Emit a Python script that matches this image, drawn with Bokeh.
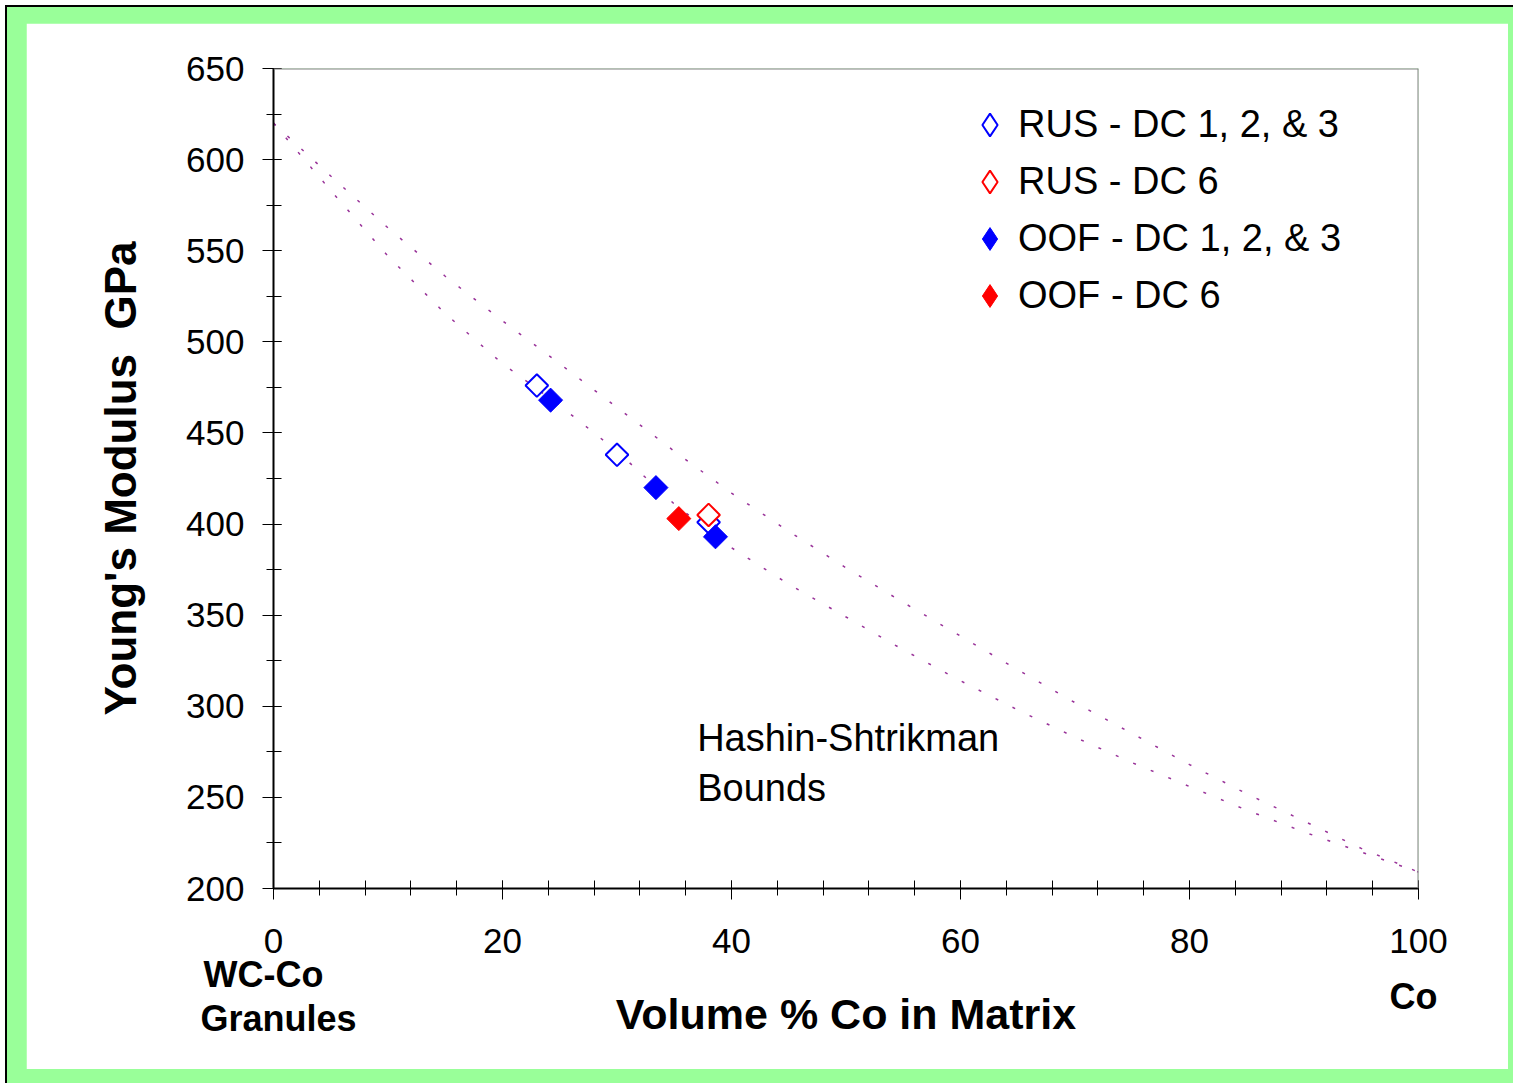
import numpy as np
from bokeh.plotting import figure
from bokeh.models import (Legend, LegendItem, Label, SingleIntervalTicker,
                          FixedTicker, LinearAxis, Range1d, Span)
from bokeh.layouts import column
from bokeh.embed import file_html
from bokeh.resources import INLINE

# ---------------- data ----------------
rus_123_x = [23.0, 30.0, 38.0]
rus_123_y = [476, 438, 401]
rus_6_x = [38.0]
rus_6_y = [405]
oof_123_x = [24.2, 33.4, 38.6]
oof_123_y = [468, 420, 393]
oof_6_x = [35.4]
oof_6_y = [403]

hs_x = [0, 5, 10, 15, 20, 25, 30, 35, 40, 45, 50, 55, 60, 65, 70, 75, 80, 85, 90, 95, 100]
hs_upper = [620, 591, 562.5, 536, 511.5, 488, 464, 440, 417, 396, 376, 357, 338.5,
            320, 302, 285, 268, 252, 237, 222, 209]
hs_lower = [620, 583, 547, 515.5, 488, 465, 440, 411, 387, 367, 349, 331, 314,
            298, 283, 269, 256, 243, 231, 220, 209]

legend_labels = ["RUS - DC 1, 2, & 3", "RUS - DC 6", "OOF - DC 1, 2, & 3", "OOF - DC 6"]
NB = "\u00a0"
x_end_labels = {0: NB + "WC-Co" + NB * 3 + "\n" + NB + "Granules", 100: "Co" + NB}
x_ticks_interval = 20
y_ticks_interval = 50

FONT = "Liberation Sans"
PURPLE = "#993399"

# ---------------- figure ----------------
p = figure(width=1482, height=1046, output_backend="svg", toolbar_location=None,
           x_range=Range1d(0, 100), y_range=Range1d(200, 650),
           min_border_left=247, min_border_right=90, min_border_top=45,
           min_border_bottom=181)
p.background_fill_color = "white"
p.border_fill_color = "white"
p.outline_line_color = None
p.xgrid.visible = False
p.ygrid.visible = False

# Hashin-Shtrikman bounds
p.line(hs_x, hs_upper, line_color=PURPLE, line_width=1.5, line_dash="3 16")
p.line(hs_x, hs_lower, line_color=PURPLE, line_width=1.5, line_dash="3 16")

# data points (diamonds = squares turned 45 degrees)
series = [(rus_123_x, rus_123_y, dict(line_color="blue", line_width=2, fill_color="white"), 16),
          (rus_6_x, rus_6_y, dict(line_color="red", line_width=2, fill_color="white"), 16),
          (oof_123_x, oof_123_y, dict(line_color="blue", line_width=1, fill_color="blue"), 17),
          (oof_6_x, oof_6_y, dict(line_color="red", line_width=1, fill_color="red"), 17)]
ang = np.pi / 4
proxies = []
for xs, ys, st, sz in series:
    p.scatter(xs, ys, marker="square", angle=ang, size=sz, **st)
    # legend symbol renderer (diamond marker, not drawn in the plot area)
    proxies.append(p.scatter(xs, ys, marker="diamond", visible=False, **st))

# frame top / right edges
p.add_layout(Span(location=p.y_range.end, dimension="width", line_color="#808080", line_width=2))
p.add_layout(Span(location=p.x_range.end, dimension="height", line_color="#808080", line_width=2))

# axes
xa = p.xaxis[0]
ya = p.yaxis[0]
for ax in (xa, ya):
    ax.axis_line_color = "black"
    ax.axis_line_width = 2
    ax.major_tick_line_color = "black"
    ax.minor_tick_line_color = "black"
    ax.major_tick_line_width = 1
    ax.minor_tick_line_width = 1
    ax.major_tick_out = 11
    ax.major_tick_in = 8
    ax.minor_tick_out = 7
    ax.minor_tick_in = 8
    ax.major_label_text_font = FONT
    ax.major_label_text_font_size = "35px"
    ax.major_label_text_color = "black"
    ax.axis_label_text_font = FONT
    ax.axis_label_text_font_style = "bold"
    ax.axis_label_text_color = "black"

xa.ticker = SingleIntervalTicker(interval=x_ticks_interval, num_minor_ticks=5)
ya.ticker = SingleIntervalTicker(interval=y_ticks_interval, num_minor_ticks=2)
xa.major_label_standoff = 29
ya.major_label_standoff = 18
ya.axis_label = "Young's Modulus" + NB + " GPa"
ya.axis_label_text_font_size = "44px"
ya.axis_label_standoff = 38


def end_axis(value, standoff):
    ax = LinearAxis(ticker=FixedTicker(ticks=[value]),
                    major_label_overrides={value: x_end_labels[value]})
    ax.axis_line_color = None
    ax.major_tick_line_color = None
    ax.minor_tick_line_color = None
    ax.major_tick_out = 0
    ax.major_tick_in = 0
    ax.minor_tick_out = 0
    ax.minor_tick_in = 0
    ax.major_label_standoff = standoff
    ax.major_label_text_font = FONT
    ax.major_label_text_font_size = "36px"
    ax.major_label_text_font_style = "bold"
    ax.major_label_text_color = "black"
    ax.major_label_text_line_height = 1.08
    ax.axis_label_text_font = FONT
    ax.axis_label_text_font_style = "bold"
    ax.axis_label_text_color = "black"
    p.add_layout(ax, "below")
    return ax

co_axis = end_axis(100, 20)
wc_axis = end_axis(0, -66)
wc_axis.axis_label = "Volume % Co in Matrix"
wc_axis.axis_label_text_font_size = "43px"
wc_axis.axis_label_standoff = -52

# legend
legend = Legend(items=[LegendItem(label=lbl, renderers=[r])
                       for lbl, r in zip(legend_labels, proxies)],
                location=(688, 564))
legend.border_line_color = None
legend.background_fill_alpha = 0
legend.label_text_font = FONT
legend.label_text_font_size = "38px"
legend.label_text_color = "black"
legend.glyph_width = 57
legend.glyph_height = 57
legend.label_height = 57
legend.spacing = 0
legend.padding = 0
legend.margin = 0
legend.label_standoff = 0
p.add_layout(legend)

# in-plot annotation
for txt, yv in (("Hashin-Shtrikman", 294.3), ("Bounds", 266.9)):
    p.add_layout(Label(x=37.0, y=yv, text=txt, text_font=FONT, text_font_size="38px",
                       text_color="black", text_baseline="top", text_align="left"))

layout = column(p, styles={"background-color": "#99FF99",
                           "border": "2px solid #000000",
                           "padding": "16px 19px 16px 19px",
                           "margin-left": "5px", "margin-top": "5px"})

open("out.html", "w").write(file_html(layout, INLINE))
